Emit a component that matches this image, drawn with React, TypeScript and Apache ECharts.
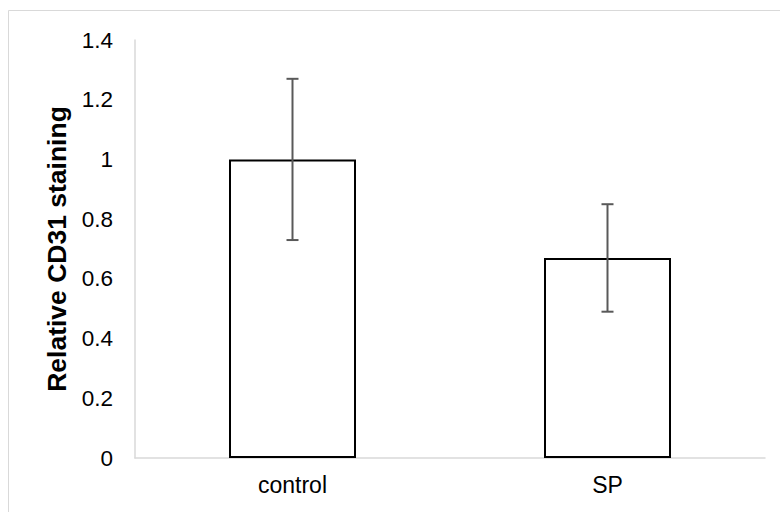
import React, { useEffect, useRef } from "react";
import * as echarts from "echarts";

const categories = ["control", "SP"];
const means = [1.0, 0.67];
const errLow = [0.73, 0.49];
const errHigh = [1.27, 0.85];
const yTicks = { min: 0, max: 1.4, interval: 0.2 };
const yTitle = "Relative CD31 staining";

export default function App() {
  const ref = useRef<HTMLDivElement>(null);
  useEffect(() => {
    document.body.style.margin = "0";
    const chart = echarts.init(ref.current!, undefined, { renderer: "svg" });
    const font = "'Liberation Sans', Arial, sans-serif";
    chart.setOption({
      animation: false,
      backgroundColor: "#ffffff",
      textStyle: { fontFamily: font },
      graphic: [
        {
          type: "rect",
          shape: { x: 8.5, y: 10.5, width: 800, height: 600 },
          style: { fill: "none", stroke: "#d9d9d9", lineWidth: 1 },
          silent: true,
        },
      ],
      grid: { left: 135, right: 15, top: 40, bottom: 54 },
      xAxis: {
        type: "category",
        data: categories,
        axisLine: { lineStyle: { color: "#d9d9d9", width: 1.5 } },
        axisTick: { show: false },
        axisLabel: { color: "#000", fontSize: 23, margin: 15, fontFamily: font },
      },
      yAxis: {
        type: "value",
        min: yTicks.min,
        max: yTicks.max,
        interval: yTicks.interval,
        name: yTitle,
        nameLocation: "middle",
        nameRotate: 90,
        nameGap: 56,
        nameTextStyle: { color: "#000", fontSize: 26.5, fontWeight: "bold", fontFamily: font },
        axisLine: { show: true, lineStyle: { color: "#d9d9d9", width: 1.5 } },
        axisTick: { show: false },
        splitLine: { show: false },
        axisLabel: {
          color: "#000",
          fontSize: 22.5,
          margin: 22,
          fontFamily: font,
          formatter: (v: number) => String(Math.round(v * 10) / 10),
        },
      },
      series: [
        {
          type: "bar",
          data: means,
          barWidth: 127,
          itemStyle: { color: "#ffffff", borderColor: "#000000", borderWidth: 2 },
        },
        {
          type: "custom",
          data: categories.map((_, i) => [i, errLow[i], errHigh[i]]),
          renderItem: (params: any, api: any) => {
            const i = api.value(0);
            const lo = api.coord([i, api.value(1)]);
            const hi = api.coord([i, api.value(2)]);
            const cap = 6;
            const style = { stroke: "#595959", lineWidth: 2 };
            return {
              type: "group",
              children: [
                { type: "line", shape: { x1: hi[0], y1: hi[1], x2: lo[0], y2: lo[1] }, style },
                { type: "line", shape: { x1: hi[0] - cap, y1: hi[1], x2: hi[0] + cap, y2: hi[1] }, style },
                { type: "line", shape: { x1: lo[0] - cap, y1: lo[1], x2: lo[0] + cap, y2: lo[1] }, style },
              ],
            };
          },
          z: 3,
        },
      ],
    });
    return () => chart.dispose();
  }, []);
  return <div ref={ref} style={{ width: 780, height: 512 }} />;
}
